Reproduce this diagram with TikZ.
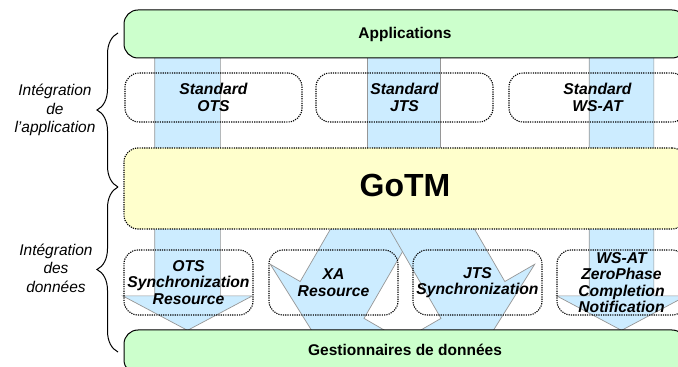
\documentclass[tikz,border=0pt]{standalone}
\usepackage{fontspec}
\setmainfont{Liberation Sans}
\usepackage{tikz}
\usetikzlibrary{shapes.arrows, decorations.pathreplacing, calc}
\definecolor{appgreen}{RGB}{204,255,204}
\definecolor{tmyellow}{RGB}{255,255,204}
\definecolor{flowblue}{RGB}{204,236,255}
\definecolor{flowgray}{RGB}{150,150,150}

\begin{document}
\begin{tikzpicture}[
  x=1pt, y=1pt,
  font=\fontsize{15.5}{17}\selectfont,
  tier/.style={draw, line width=1pt, rounded corners=14pt,
               minimum width=562pt, align=center,
               font=\bfseries\fontsize{15.5}{17}\selectfont},
  resource/.style={draw, line width=1.1pt, dash pattern=on 1.2pt off 1.1pt,
                   rounded corners=14pt, align=center, inner sep=0pt,
                   font=\bfseries\itshape\fontsize{15.7}{16.5}\selectfont},
  standard/.style={resource, minimum width=177pt, minimum height=49pt},
  adapter/.style={resource, minimum width=129pt, minimum height=65pt},
  flow/.style={single arrow, draw=flowgray, fill=flowblue, line width=0.7pt,
               inner xsep=0pt, single arrow tip angle=124, anchor=tail},
  column/.style={draw=flowgray, fill=flowblue, line width=0.7pt, inner sep=0pt},
  rolelabel/.style={font=\itshape\fontsize{15.5}{18.5}\selectfont, align=center},
  bracket/.style={decorate, decoration={brace, amplitude=21pt}, line width=1pt}
]
\useasboundingbox (0,0) rectangle (678,367);
\clip (0,0) rectangle (678,367);

%% Flows (drawn first, the tiers cover them)
\node[flow, inner ysep=32.5pt, single arrow head extend=32pt,
      minimum height=280pt, rotate=-90] (otsflow) at (187.5,317) {};
\node[flow, inner ysep=32pt, single arrow head extend=32.5pt,
      minimum height=280pt, rotate=-90] (wsatflow) at (621.5,317) {};
\node[column, minimum width=73pt, minimum height=150pt] (jtscol) at (403.5,242) {};
\node[flow, inner ysep=36.5pt, single arrow head extend=34.5pt,
      minimum height=153pt, rotate=240] (xaflow) at (389.8,167) {};
\node[flow, inner ysep=36.5pt, single arrow head extend=34.5pt,
      minimum height=153pt, rotate=300] (jtsflow) at (415.2,167) {};

%% Tiers
\node[tier, fill=appgreen, minimum height=48pt] (apps) at (405,333) {Applications};
\node[resource, fill=tmyellow, minimum width=562pt, minimum height=81pt,
      text depth=6pt, font=\bfseries\fontsize{32}{36}\selectfont] (gotm) at (405,178.5) {GoTM};
\node[tier, fill=appgreen, minimum height=44pt, text depth=4pt] (data) at (405,15) {Gestionnaires de données};

%% Standards
\node[standard] (stdots)  at (213.5,269.5) {Standard\\OTS};
\node[standard] (stdjts)  at (404.5,269.5) {Standard\\JTS};
\node[standard] (stdwsat) at (597.5,269.5) {Standard\\WS-AT};

%% Resources
\node[adapter] (otsres)    at (188.5,84.5) {OTS\\Synchronization\\Resource};
\node[adapter] (xares)     at (333.5,84.5) {XA\\Resource};
\node[adapter] (jtssync)   at (477.5,84.5) {JTS\\Synchronization};
\node[adapter] (wsatnotif) at (621.5,84.5) {WS-AT\\ZeroPhase\\Completion\\Notification};

%% Braces and their labels
\coordinate (bracetop) at (118,334);
\coordinate (bracemid) at (118,180);
\coordinate (bracebot) at (118,15);
\draw[bracket] (bracemid) -- (bracetop);
\draw[bracket] (bracebot) -- (bracemid);
\node[rolelabel] (appint)  at (55,257) {Intégration\\de\\l’application};
\node[rolelabel] (dataint) at (56,99)  {Intégration\\des\\données};

\end{tikzpicture}
\end{document}
